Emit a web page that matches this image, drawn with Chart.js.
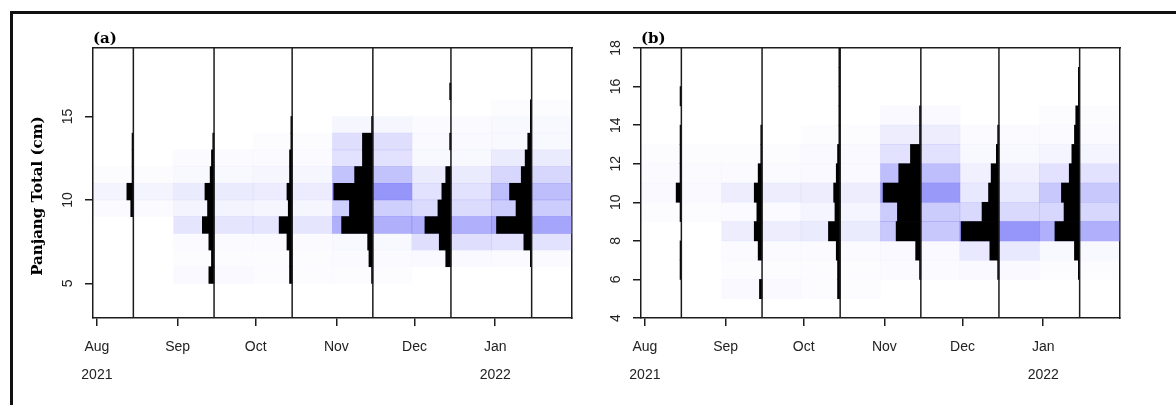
<!DOCTYPE html>
<html>
<head>
<meta charset="utf-8">
<title>Length frequency</title>
<script src="https://cdn.jsdelivr.net/npm/chart.js@4.4.1/dist/chart.umd.min.js"></script>
<style>
  html, body { margin: 0; padding: 0; background: #fff; }
  #page { position: relative; width: 1176px; height: 405px; overflow: hidden; }
  #frame { position: absolute; left: 10px; top: 11px; width: 1200px; height: 420px;
           border-top: 3px solid #111; border-left: 3px solid #111; }
  .panel { position: absolute; top: 0; height: 405px; }
  #panelA { left: 0; width: 590px; }
  #panelB { left: 548px; width: 628px; }
</style>
</head>
<body>
<div id="page">
  <div id="frame"></div>
  <div class="panel" id="panelA"><canvas id="chartA"></canvas></div>
  <div class="panel" id="panelB"><canvas id="chartB"></canvas></div>
</div>
<script>
// monthly samples
const sampleDates = ["2021-08-15", "2021-09-15", "2021-10-15", "2021-11-15", "2021-12-15", "2022-01-15"];
// 1 cm length classes (mid points), 4-5 cm ... 17-18 cm
const lengthMids = [4.5, 5.5, 6.5, 7.5, 8.5, 9.5, 10.5, 11.5, 12.5, 13.5, 14.5, 15.5, 16.5, 17.5];

// number of fish per length class, one row per sample
const countsA = [
  [0, 0, 0, 0, 0, 2, 5, 1, 1, 1, 0, 0, 0, 0],
  [0, 4, 2, 4, 9, 5, 7, 3, 2, 1, 0, 0, 0, 0],
  [0, 2, 2, 4, 10, 3, 4, 2, 2, 1, 1, 0, 0, 0],
  [0, 1, 3, 4, 24, 18, 30, 14, 8, 8, 1, 0, 0, 0],
  [0, 0, 4, 9, 20, 10, 7, 4, 0, 1, 0, 0, 1, 0],
  [0, 0, 1, 6, 27, 12, 17, 8, 5, 3, 1, 1, 0, 0]
];
const countsB = [
  [0, 0, 1, 1, 0, 1, 4, 1, 1, 1, 0, 1, 0, 0],
  [0, 2, 0, 3, 6, 4, 6, 3, 1, 1, 0, 0, 0, 0],
  [0, 2, 2, 3, 9, 4, 5, 3, 2, 1, 1, 1, 1, 1],
  [0, 0, 1, 4, 19, 18, 29, 17, 8, 1, 1, 0, 0, 0],
  [0, 0, 1, 7, 29, 13, 8, 6, 2, 1, 0, 0, 0, 0],
  [0, 0, 1, 4, 19, 12, 14, 8, 6, 4, 3, 1, 1, 0]
];

// restructured scores shown as the blue background
const scoresA = [
  [0, 0, 0, 0, 0, 0.03, 0.08, 0.02, 0, 0, 0, 0, 0, 0],
  [0, 0.04, 0.02, 0.03, 0.18, 0.08, 0.14, 0.05, 0.03, 0, 0, 0, 0, 0],
  [0, 0.02, 0.02, 0.03, 0.18, 0.06, 0.13, 0.06, 0.03, 0.02, 0, 0, 0, 0],
  [0, 0.02, 0.03, 0.05, 0.55, 0.33, 0.72, 0.42, 0.2, 0.22, 0.06, 0, 0, 0],
  [0, 0, 0.04, 0.22, 0.55, 0.25, 0.2, 0.14, 0.05, 0.04, 0.03, 0, 0, 0],
  [0, 0, 0.03, 0.2, 0.62, 0.35, 0.45, 0.28, 0.14, 0.05, 0.05, 0.02, 0, 0]
];
const scoresB = [
  [0, 0, 0, 0, 0, 0.02, 0.04, 0.03, 0.02, 0, 0, 0, 0, 0],
  [0, 0.04, 0.02, 0.03, 0.12, 0.03, 0.12, 0.03, 0.02, 0, 0, 0, 0, 0],
  [0, 0.02, 0.02, 0.03, 0.14, 0.07, 0.12, 0.04, 0.04, 0.02, 0, 0, 0, 0],
  [0, 0, 0.03, 0.04, 0.38, 0.36, 0.7, 0.45, 0.2, 0.12, 0.04, 0, 0, 0],
  [0, 0, 0.04, 0.16, 0.72, 0.26, 0.16, 0.1, 0.05, 0.03, 0, 0, 0, 0],
  [0, 0, 0.02, 0.05, 0.55, 0.28, 0.38, 0.2, 0.07, 0.03, 0.02, 0, 0, 0]
];

// x axis: month ticks
const monthStarts = ["2021-08-01", "2021-09-01", "2021-10-01", "2021-11-01", "2021-12-01", "2022-01-01"];
const monthLabels = ["Aug", "Sep", "Oct", "Nov", "Dec", "Jan"];
const yearLabels = ["2021", "", "", "", "", "2022"];

// y axes
const yTicksA = [5, 10, 15];
const yTicksB = [4, 6, 8, 10, 12, 14, 16, 18];

const DAY = 86400000;
const origin = Date.parse("2021-08-01");
const toDay = s => (Date.parse(s) - origin) / DAY;
const sampleDays = sampleDates.map(toDay);
const tickDays = monthStarts.map(toDay);
const daysPerFish = 0.5;

// each sample owns the stretch of time halfway to its neighbours
const edges = sampleDays.map((d, i) =>
  i === 0 ? d - (sampleDays[1] - d) / 2 : (sampleDays[i - 1] + d) / 2);
edges.push(sampleDays[5] + (sampleDays[5] - sampleDays[4]) / 2);

const ink = "#1c1c1c";
const sans = "'Liberation Sans', Arial, sans-serif";
const serif = "'DejaVu Serif', serif";

function buildPanel(canvasId, label, counts, scores, yMin, yMax, yTicks, yTitle, padRight) {
  const heat = [], hist = [], lines = [];
  sampleDays.forEach((d, i) => {
    lengthMids.forEach((m, j) => {
      if (scores[i][j] > 0) heat.push({ y: m, x: [edges[i], edges[i + 1]], s: scores[i][j] });
      if (counts[i][j] > 0) hist.push({ y: m, x: [d - counts[i][j] * daysPerFish, d] });
    });
    lines.push({ x: d, y: yMin }, { x: d, y: yMax }, { x: d, y: null });
  });

  const barCommon = {
    type: "bar", indexAxis: "y", xAxisID: "x", yAxisID: "y",
    grouped: false, categoryPercentage: 1, barPercentage: 1, borderWidth: 0
  };

  return new Chart(document.getElementById(canvasId), {
    type: "scatter",
    data: {
      datasets: [
        { ...barCommon, data: heat, order: 2,
          backgroundColor: c => `rgba(110, 110, 248, ${c.raw ? c.raw.s : 0})` },
        { ...barCommon, data: hist, order: 1, backgroundColor: "#000" },
        { type: "line", data: lines, order: 0, xAxisID: "x", yAxisID: "y",
          borderColor: ink, borderWidth: 1.5, pointRadius: 0, tension: 0, spanGaps: false }
      ]
    },
    options: {
      responsive: true,
      maintainAspectRatio: false,
      animation: false,
      events: [],
      layout: { padding: { top: 30, right: padRight, bottom: 0, left: 0 } },
      plugins: {
        legend: { display: false },
        tooltip: { enabled: false },
        title: {
          display: true, text: label, align: "start", fullSize: false,
          color: "#000", font: { family: serif, size: 15, weight: "bold" },
          padding: { top: 0, bottom: 0 }
        }
      },
      scales: {
        x: {
          type: "linear", axis: "x", position: "bottom", offset: false, beginAtZero: false,
          min: edges[0], max: edges[edges.length - 1],
          afterBuildTicks: s => { s.ticks = tickDays.map(v => ({ value: v })); },
          afterFit: s => { s.height = 87; },
          grid: { offset: false, drawOnChartArea: false, drawTicks: true, tickLength: 8, color: ink, lineWidth: 1.5 },
          border: { display: true, color: ink, width: 1.5 },
          ticks: {
            autoSkip: false, maxRotation: 0, padding: 7, color: "#222",
            font: { family: sans, size: 14, lineHeight: 2 },
            callback: (v, i) => [monthLabels[i], yearLabels[i]]
          }
        },
        y: {
          type: "linear", axis: "y", position: "left", offset: false, beginAtZero: false,
          min: yMin, max: yMax,
          afterBuildTicks: s => { s.ticks = yTicks.map(v => ({ value: v })); },
          afterFit: s => { s.width = 93; },
          grid: { offset: false, drawOnChartArea: false, drawTicks: true, tickLength: 8, color: ink, lineWidth: 1.5 },
          border: { display: true, color: ink, width: 1.5 },
          ticks: {
            minRotation: 90, maxRotation: 90, crossAlign: "center", padding: 9, color: "#222",
            font: { family: sans, size: 14 }
          },
          title: {
            display: !!yTitle, text: yTitle, color: "#000",
            font: { family: serif, size: 15, weight: "bold" },
            padding: { top: 29, bottom: 0 }
          }
        },
        xTop: {
          type: "linear", axis: "x", position: "top",
          afterBuildTicks: s => { s.ticks = []; },
          afterFit: s => { s.height = 0; },
          grid: { drawOnChartArea: false, drawTicks: false },
          ticks: { display: false },
          border: { display: true, color: ink, width: 1.5 }
        },
        yRight: {
          type: "linear", axis: "y", position: "right",
          afterBuildTicks: s => { s.ticks = []; },
          afterFit: s => { s.width = 0; },
          grid: { drawOnChartArea: false, drawTicks: false },
          ticks: { display: false },
          border: { display: true, color: ink, width: 1.5 }
        }
      }
    }
  });
}

buildPanel("chartA", "(a)", countsA, scoresA, 2.93, 19.1, yTicksA,
  "Panjang Total (cm)     ", 18);
buildPanel("chartB", "(b)", countsB, scoresB, 4, 18, yTicksB, "", 56);
</script>
</body>
</html>
